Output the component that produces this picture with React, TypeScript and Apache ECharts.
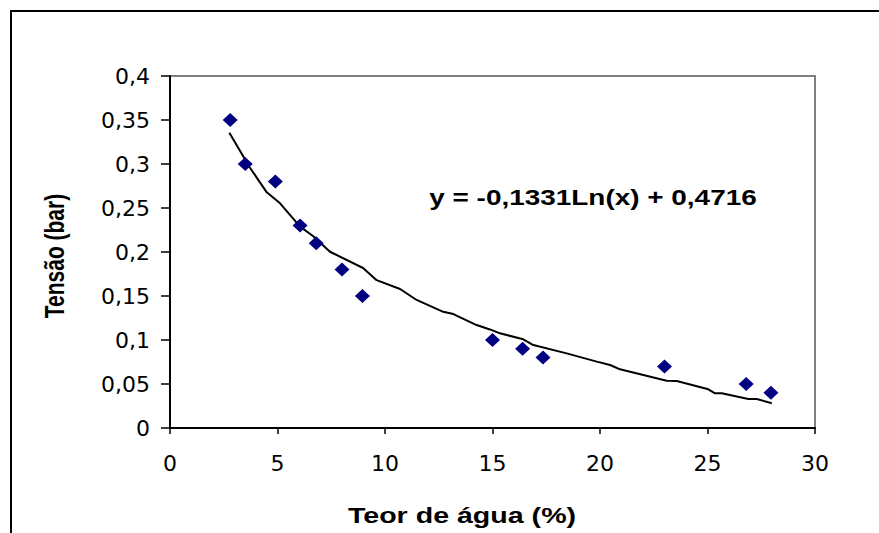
import React, { useEffect, useRef } from "react";
import * as echarts from "echarts";

const teorAgua = [2.8, 3.5, 4.9, 6.05, 6.8, 8.0, 8.95, 15.0, 16.4, 17.35, 23.0, 26.8, 27.95];
const tensao = [0.35, 0.30, 0.28, 0.23, 0.21, 0.18, 0.15, 0.10, 0.09, 0.08, 0.07, 0.05, 0.04];

// trendline (x, y)
const trendX = [2.76, 3.72, 4.5, 5.12, 6.05, 6.65, 7.44, 8.98, 9.61, 10.7, 11.47, 12.71, 13.18, 14.26, 14.88, 15.35, 16.43, 16.9, 18.45, 19.85, 20.47, 20.93, 23.1, 23.57, 25.04, 25.35, 25.66, 26.9, 27.29, 27.99];
const trendY = [0.3356, 0.2958, 0.2678, 0.2553, 0.2288, 0.2182, 0.2003, 0.1818, 0.168, 0.158, 0.1455, 0.132, 0.1295, 0.117, 0.112, 0.1076, 0.1008, 0.0943, 0.0848, 0.0754, 0.0716, 0.0667, 0.0538, 0.0534, 0.044, 0.0394, 0.0394, 0.033, 0.033, 0.0281];

const equation = "y = -0,1331Ln(x) + 0,4716";
const yTitle = "Tensão (bar)";
const xTitle = "Teor de água (%)";

const FONT = "'Liberation Sans', Arial, sans-serif";
const TICK_FONT = "'DejaVu Sans', sans-serif";

export default function App() {
  const ref = useRef<HTMLDivElement>(null);
  useEffect(() => {
    if (!ref.current) return;
    const chart = echarts.init(ref.current, null, { renderer: "svg" });
    chart.setOption({
      animation: false,
      backgroundColor: "#ffffff",
      grid: {
        left: 170,
        top: 76,
        width: 645,
        height: 352,
        show: true,
        borderColor: "#808080",
        borderWidth: 2,
        backgroundColor: "transparent",
      },
      xAxis: {
        type: "value",
        min: 0,
        max: 30,
        interval: 5,
        splitLine: { show: false },
        axisLine: { show: true, lineStyle: { color: "#000", width: 2 } },
        axisTick: { show: true, inside: false, length: 6, lineStyle: { color: "#000", width: 1.5 } },
        axisLabel: { color: "#000", fontSize: 22, fontFamily: TICK_FONT, margin: 24 },
      },
      yAxis: {
        type: "value",
        min: 0,
        max: 0.4,
        interval: 0.05,
        splitLine: { show: false },
        axisLine: { show: true, lineStyle: { color: "#000", width: 2 } },
        axisTick: { show: true, inside: false, length: 9, lineStyle: { color: "#000", width: 1.5 } },
        axisLabel: {
          color: "#000",
          fontSize: 22,
          fontFamily: TICK_FONT,
          margin: 20,
          formatter: (v: number) => parseFloat(v.toFixed(2)).toString().replace(".", ","),
        },
      },
      series: [
        {
          type: "line",
          data: trendX.map((x, i) => [x, trendY[i]]),
          showSymbol: false,
          symbol: "none",
          lineStyle: { color: "#000", width: 2 },
          z: 2,
        },
        {
          type: "scatter",
          data: teorAgua.map((x, i) => [x, tensao[i]]),
          symbol: "diamond",
          symbolSize: [15, 14],
          itemStyle: { color: "#000080", opacity: 1 },
          z: 3,
        },
      ],
      graphic: [
        {
          type: "rect",
          shape: { x: 11, y: 11, width: 900, height: 600 },
          style: { fill: "none", stroke: "#000", lineWidth: 2 },
          silent: true,
        },
        {
          type: "text",
          x: 593,
          y: 197,
          scaleX: 1.27,
          style: {
            text: equation,
            font: `bold 22px ${FONT}`,
            fill: "#000",
            align: "center",
            verticalAlign: "middle",
          },
        },
        {
          type: "text",
          x: 462,
          y: 515,
          scaleX: 1.3,
          style: {
            text: xTitle,
            font: `bold 22px ${FONT}`,
            fill: "#000",
            align: "center",
            verticalAlign: "middle",
          },
        },
        {
          type: "text",
          x: 54,
          y: 256,
          rotation: Math.PI / 2,
          scaleY: 1.3,
          style: {
            text: yTitle,
            font: `bold 21px ${FONT}`,
            fill: "#000",
            align: "center",
            verticalAlign: "middle",
          },
        },
      ],
    });
    return () => chart.dispose();
  }, []);
  return (
    <div
      ref={ref}
      style={{ position: "fixed", left: 0, top: 0, width: 879, height: 533, background: "#fff" }}
    />
  );
}
